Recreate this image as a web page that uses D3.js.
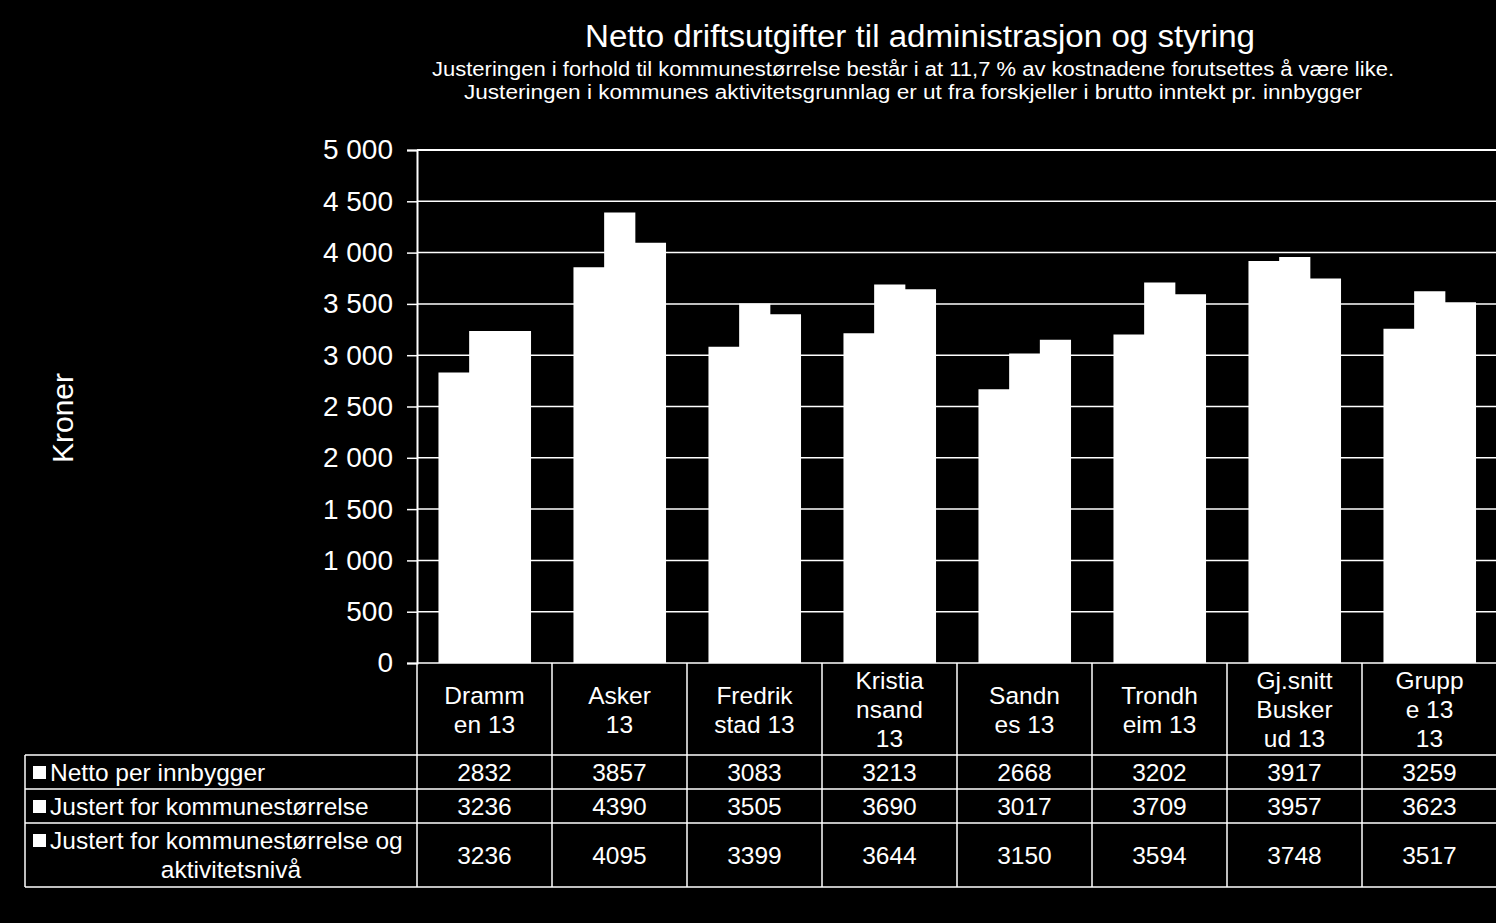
<!DOCTYPE html>
<html>
<head>
<meta charset="utf-8">
<script src="https://cdn.jsdelivr.net/npm/d3@7"></script>
<style>
  html, body { margin: 0; padding: 0; background: #000; }
  svg { display: block; }
  text { font-family: "Liberation Sans", Arial, sans-serif; fill: #fff; }
</style>
</head>
<body>
<svg id="chart" width="1496" height="923"></svg>
<script>
const categories = ['Drammen 13', 'Asker 13', 'Fredrikstad 13', 'Kristiansand 13',
  'Sandnes 13', 'Trondheim 13', 'Gj.snitt Buskerud 13', 'Gruppe 13 13'];
// wrapped the way the table header shows them
const categoryLines = [
  ['Dramm', 'en 13'], ['Asker', '13'], ['Fredrik', 'stad 13'], ['Kristia', 'nsand', '13'],
  ['Sandn', 'es 13'], ['Trondh', 'eim 13'], ['Gj.snitt', 'Busker', 'ud 13'], ['Grupp', 'e 13', '13'],
];
const seriesNames = ['Netto per innbygger', 'Justert for kommunestørrelse',
  'Justert for kommunestørrelse og aktivitetsnivå'];
const seriesLines = [
  ['Netto per innbygger'],
  ['Justert for kommunestørrelse'],
  ['Justert for kommunestørrelse og', 'aktivitetsnivå'],
];
const netto = [2832, 3857, 3083, 3213, 2668, 3202, 3917, 3259];
const justertStorrelse = [3236, 4390, 3505, 3690, 3017, 3709, 3957, 3623];
const justertAktivitet = [3236, 4095, 3399, 3644, 3150, 3594, 3748, 3517];
const yTicks = [0, 500, 1000, 1500, 2000, 2500, 3000, 3500, 4000, 4500, 5000];

const title = 'Netto driftsutgifter til administrasjon og styring';
const subtitle = [
  'Justeringen  i forhold til kommunestørrelse  består i at 11,7 % av kostnadene  forutsettes å være like.',
  'Justeringen  i kommunes  aktivitetsgrunnlag  er ut fra forskjeller i brutto inntekt pr. innbygger',
];

const series = [netto, justertStorrelse, justertAktivitet];

const svg = d3.select('#chart');
const plotLeft = 417;
const plotRight = 1497;
const plotTop = 150;
const plotBottom = 663;
const tableFont = 24.5;

const x0 = d3.scaleBand().domain(categories).range([plotLeft, plotRight]);
const groupGap = x0.bandwidth() * 0.318;
const x1 = d3.scaleBand().domain(d3.range(series.length))
  .range([groupGap / 2, x0.bandwidth() - groupGap / 2]);
const y = d3.scaleLinear().domain([0, 5000]).range([plotBottom, plotTop]);

// title
svg.append('text')
  .attr('x', 920).attr('y', 47)
  .attr('text-anchor', 'middle')
  .attr('font-size', 31)
  .attr('textLength', 670)
  .attr('lengthAdjust', 'spacingAndGlyphs')
  .text(title);

svg.selectAll('text.subtitle')
  .data(subtitle)
  .join('text')
  .attr('class', 'subtitle')
  .attr('x', 913)
  .attr('y', (d, i) => 76 + i * 23)
  .attr('text-anchor', 'middle')
  .attr('font-size', 19.5)
  .attr('textLength', (d, i) => (i === 0 ? 962 : 898))
  .attr('lengthAdjust', 'spacingAndGlyphs')
  .text((d) => d);

// gridlines
svg.append('g')
  .selectAll('line')
  .data(yTicks)
  .join('line')
  .attr('x1', plotLeft).attr('x2', plotRight)
  .attr('y1', (d) => y(d)).attr('y2', (d) => y(d))
  .attr('stroke', '#fff')
  .attr('stroke-width', (d) => (d === 5000 ? 2 : 1.5));

// y axis
const yAxis = svg.append('g')
  .attr('transform', `translate(${plotLeft},0)`)
  .call(d3.axisLeft(y).tickValues(yTicks).tickSize(10).tickPadding(14)
    .tickFormat((d) => d3.format(',')(d).replace(',', ' ')));
yAxis.select('.domain').attr('stroke', '#fff').attr('stroke-width', 2);
yAxis.selectAll('.tick line').attr('stroke', '#fff').attr('stroke-width', 1.5);
yAxis.selectAll('.tick text')
  .attr('fill', '#fff')
  .attr('font-size', 28)
  .attr('font-family', '"Liberation Sans", Arial, sans-serif');

svg.append('text')
  .attr('transform', 'translate(73,418) rotate(-90)')
  .attr('text-anchor', 'middle')
  .attr('font-size', 30)
  .text('Kroner');

// bars, one path per category so adjacent bars show no seam
svg.append('g')
  .selectAll('path')
  .data(categories)
  .join('path')
  .attr('fill', '#fff')
  .attr('d', (c, i) => {
    const p = d3.path();
    series.forEach((s, si) => {
      const bx = x0(c) + x1(si);
      p.rect(bx, y(s[i]), x1.bandwidth() + 0.5, y(0) - y(s[i]));
    });
    return p.toString();
  });

// data table
const tableLeft = 25;
const rowEdges = [plotBottom, 755, 789, 823, 887];
const table = svg.append('g');
const lineStyle = (sel) => sel.attr('stroke', '#fff').attr('stroke-width', 1.5);

// horizontal rules
table.selectAll('line.h')
  .data(rowEdges.slice(1))
  .join('line')
  .attr('class', 'h')
  .attr('x1', tableLeft).attr('x2', plotRight)
  .attr('y1', (d) => d).attr('y2', (d) => d)
  .call(lineStyle);

// vertical rules between categories
table.selectAll('line.v')
  .data(categories)
  .join('line')
  .attr('class', 'v')
  .attr('x1', (d) => x0(d)).attr('x2', (d) => x0(d))
  .attr('y1', plotBottom).attr('y2', rowEdges[4])
  .call(lineStyle);

table.append('line')
  .attr('x1', tableLeft).attr('x2', tableLeft)
  .attr('y1', rowEdges[1]).attr('y2', rowEdges[4])
  .call(lineStyle);

// header labels
const headerMid = (rowEdges[0] + rowEdges[1]) / 2;
categories.forEach((c, i) => {
  const lines = categoryLines[i];
  const t = table.append('text')
    .attr('text-anchor', 'middle')
    .attr('font-size', tableFont)
    .attr('x', x0(c) + x0.bandwidth() / 2);
  lines.forEach((ln, j) => {
    t.append('tspan')
      .attr('x', x0(c) + x0.bandwidth() / 2)
      .attr('y', headerMid + 9 + (j - (lines.length - 1) / 2) * 29)
      .text(ln);
  });
});

// rows
series.forEach((s, si) => {
  const mid = (rowEdges[si + 1] + rowEdges[si + 2]) / 2;
  const lines = seriesLines[si];
  table.append('rect')
    .attr('x', 33).attr('y', rowEdges[si + 1] + 11)
    .attr('width', 13).attr('height', 13)
    .attr('fill', '#fff');
  lines.forEach((ln, j) => {
    table.append('text')
      .attr('x', j === 0 ? 50 : 231)
      .attr('y', rowEdges[si + 1] + 26 + j * 29)
      .attr('text-anchor', j === 0 ? 'start' : 'middle')
      .attr('font-size', tableFont)
      .text(ln);
  });
  table.selectAll(null)
    .data(categories)
    .join('text')
    .attr('x', (d) => x0(d) + x0.bandwidth() / 2)
    .attr('y', mid + 9)
    .attr('text-anchor', 'middle')
    .attr('font-size', tableFont)
    .text((d, i) => s[i]);
});
</script>
</body>
</html>
